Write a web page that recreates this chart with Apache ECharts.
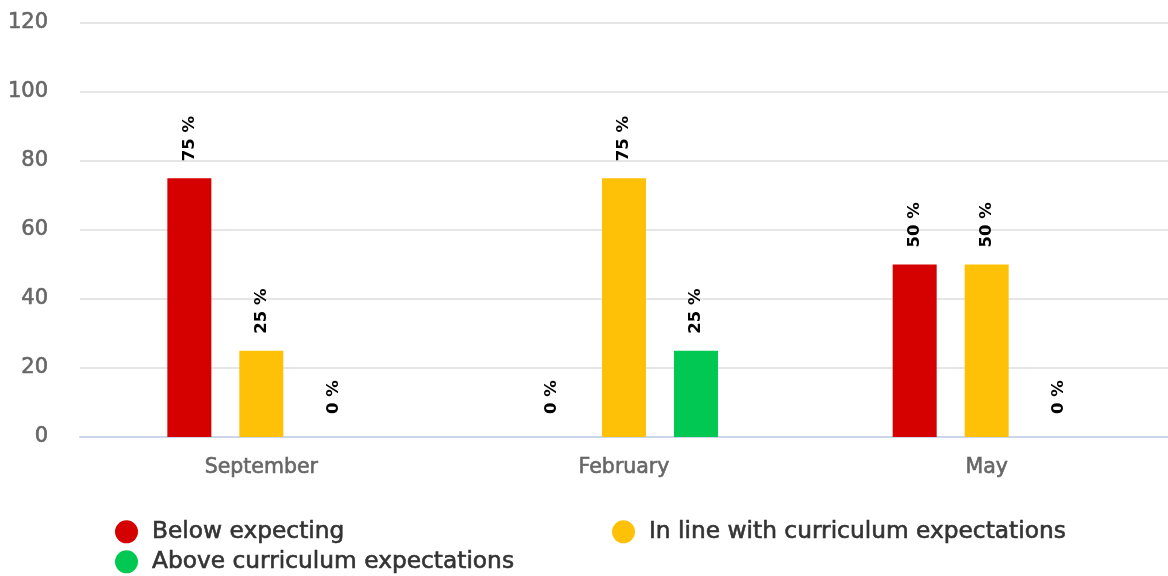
<!DOCTYPE html>
<html>
<head>
<meta charset="utf-8">
<script src="https://cdn.jsdelivr.net/npm/echarts@6/dist/echarts.min.js"></script>
<style>html,body{margin:0;padding:0;background:#fff}#c{width:1168px;height:576px}</style>
</head>
<body>
<div id="c"></div>
<script>
const categories = ['September', 'February', 'May'];
const seriesNames = ['Below expecting', 'In line with curriculum expectations', 'Above curriculum expectations'];
const belowValues = [75, 0, 50];
const inLineValues = [25, 75, 50];
const aboveValues = [0, 25, 0];
const yTicks = [0, 20, 40, 60, 80, 100, 120];
const colors = ['#d50000', '#ffc107', '#00c853'];

const FONT = 'DejaVu Sans';
const valuesList = [belowValues, inLineValues, aboveValues];

function makeSeries(i) {
  return {
    name: seriesNames[i],
    type: 'bar',
    barWidth: 44,
    barGap: '63.6%',
    itemStyle: { color: colors[i] },
    data: valuesList[i].map(v => v === 0 ? { value: v, label: { distance: 23 } } : v),
    label: {
      show: true,
      position: 'top',
      distance: 17,
      rotate: 90,
      align: 'left',
      verticalAlign: 'middle',
      formatter: p => p.value + ' %',
      color: '#000',
      fontFamily: FONT,
      fontWeight: 'bold',
      fontSize: 16.5
    }
  };
}

function legendAt(name, left, top) {
  return {
    data: [name],
    left: left, top: top,
    padding: 0,
    itemWidth: 23, itemHeight: 23,
    icon: 'circle',
    textStyle: { fontFamily: FONT, fontSize: 23.3, color: '#333', padding: [0, 0, 0, 9],
                 textBorderColor: '#333', textBorderWidth: 0.6 }
  };
}

const chart = echarts.init(document.getElementById('c'), null, { renderer: 'canvas' });
chart.setOption({
  animation: false,
  backgroundColor: '#fff',
  textStyle: { fontFamily: FONT },
  grid: { left: 80, top: 23, right: -4, bottom: 139, containLabel: false },
  legend: [
    legendAt(seriesNames[0], 115, 520),
    legendAt(seriesNames[1], 612, 520),
    legendAt(seriesNames[2], 115, 550)
  ],
  xAxis: {
    type: 'category',
    data: categories,
    axisLine: { show: true, lineStyle: { color: '#ccd6eb', width: 2 } },
    axisTick: { show: false },
    axisLabel: { color: '#666', fontFamily: FONT, fontSize: 20.5, margin: 20,
                 textBorderColor: '#666', textBorderWidth: 0.6 }
  },
  yAxis: {
    type: 'value',
    min: yTicks[0],
    max: yTicks[yTicks.length - 1],
    interval: yTicks[1] - yTicks[0],
    axisLine: { show: false },
    axisTick: { show: false },
    splitLine: { lineStyle: { color: '#e6e6e6', width: 2 } },
    axisLabel: { color: '#666', fontFamily: FONT, fontSize: 21, margin: 32,
                 textBorderColor: '#666', textBorderWidth: 0.6 }
  },
  series: [0, 1, 2].map(makeSeries)
});
</script>
</body>
</html>
